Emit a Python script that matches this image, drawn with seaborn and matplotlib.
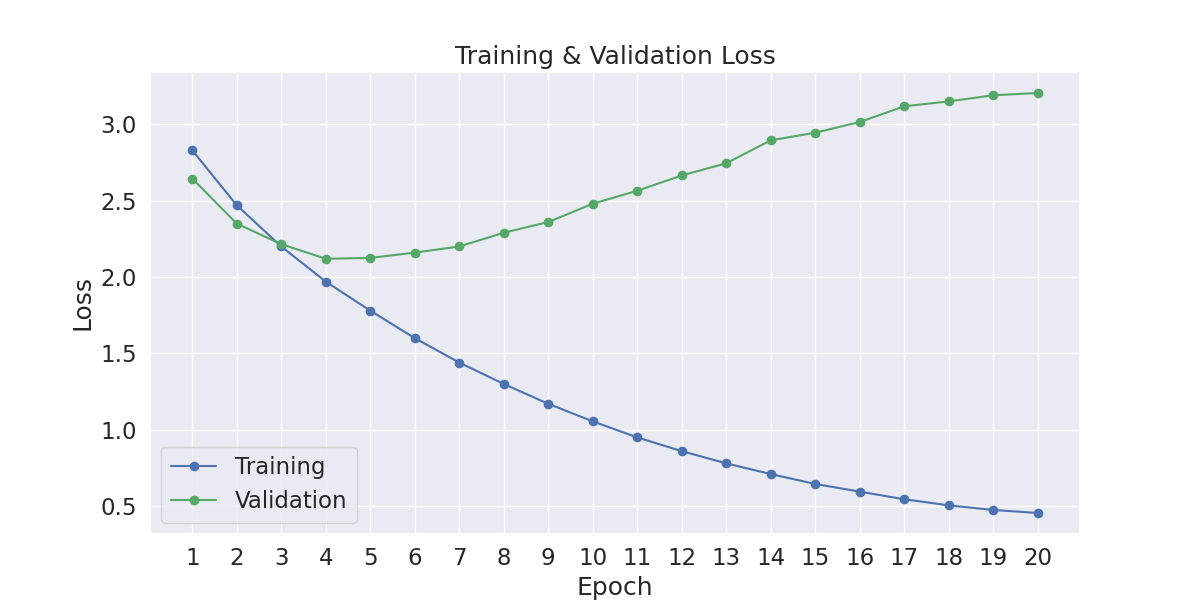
import pandas as pd
import numpy as np
import matplotlib
matplotlib.use('Agg')
import matplotlib.pyplot as plt
import seaborn as sns

# loss values

epochs = list(range(1, 21))
train_loss = [2.83, 2.47, 2.20, 1.97, 1.78, 1.60, 1.44, 1.30, 1.17, 1.055,
              0.95, 0.86, 0.78, 0.71, 0.645, 0.595, 0.545, 0.505, 0.475, 0.455]
val_loss = [2.645, 2.35, 2.215, 2.12, 2.125, 2.16, 2.20, 2.29, 2.36, 2.48,
            2.565, 2.665, 2.745, 2.895, 2.945, 3.015, 3.118, 3.15, 3.19, 3.205]

sns.set_theme(style='darkgrid', font_scale=1.5)
pal = sns.color_palette('deep')

fig, ax = plt.subplots(figsize=(12, 6), dpi=100)

sns.lineplot(x=epochs, y=train_loss, marker='o', markersize=7, markeredgewidth=0,
             color=pal[0], label='Training', ax=ax)
sns.lineplot(x=epochs, y=val_loss, marker='o', markersize=7, markeredgewidth=0,
             color=pal[2], label='Validation', ax=ax)

ax.set_xticks(epochs)
ax.set_xlabel('Epoch')
ax.set_ylabel('Loss')
ax.set_title('Training & Validation Loss')
ax.legend(loc='lower left')

plt.savefig('out.png')
